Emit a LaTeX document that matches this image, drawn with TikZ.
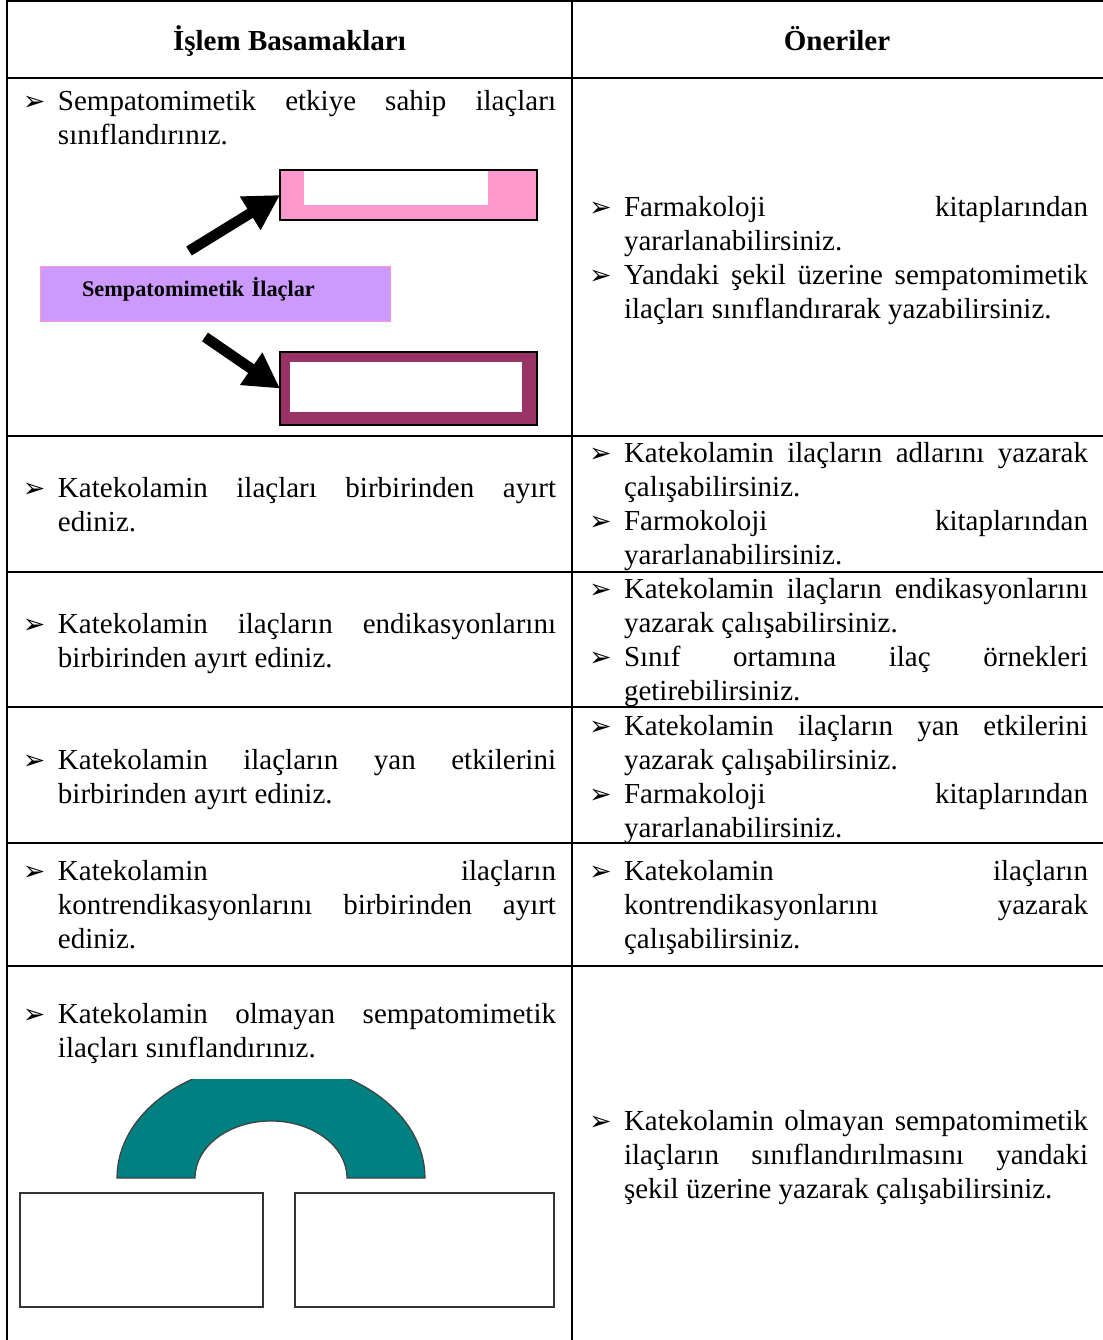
\documentclass[tikz,border=0pt]{standalone}
\usepackage{fontspec}
\setmainfont{Liberation Serif}
\newfontfamily\bulfont{DejaVu Sans}
\usetikzlibrary{arrows.meta}

\definecolor{pinkfill}{HTML}{FF99CC}
\definecolor{lilac}{HTML}{CC99FF}
\definecolor{plum}{HTML}{993366}
\definecolor{tealarc}{HTML}{008080}

% bullet with hanging indent for every item of a cell
\newcommand\itembul{\makebox[35pt][l]{\fontsize{27}{27}\bulfont ➢}}
\newcommand\cellitem[1]{\par\hangindent=35pt\hangafter=1\noindent\itembul #1\par}

\tikzset{
  rule/.style={line width=1.4pt, line cap=rect},
  cell/.style={anchor=base west, inner sep=0pt, outer sep=0pt, text width=#1,
    align=justify, font=\fontsize{29}{34}\selectfont,
    execute at begin node={\tolerance=10000\hyphenpenalty=10000\parskip=0pt}},
  headtext/.style={anchor=base, inner sep=0pt, font=\fontsize{29}{34}\selectfont\bfseries},
  plainbox/.style={draw=black!80, line width=1.4pt, inner sep=0pt, outer sep=0pt, anchor=north west},
  bigarrow/.style={line width=10.5pt, -{Triangle[width=37pt,length=35pt]}},
}

\begin{document}
\begin{tikzpicture}[x=1pt, y=-1pt]
\useasboundingbox (0,0) rectangle (1102,1340);
\fill[white] (0,0) rectangle (1102,1340);

% table rules
\foreach \yy in {1,78,436,572,707,843,966}
  \draw[rule] (7,\yy) -- (1103,\yy);
\draw[rule] (7,1) -- (7,1341);
\draw[rule] (572,1) -- (572,1341);

% header
\node[headtext] (h1) at (289.5,51) {İşlem Basamakları};
\node[headtext] (h2) at (837,51) {Öneriler};

% row 1
\node[cell=533pt] (c1l) at (23,76.5) {%
  \cellitem{Sempatomimetik etkiye sahip ilaçları\linebreak sınıflandırınız.}};
\node[cell=499pt] (c1r) at (589,182.5) {%
  \cellitem{Farmakoloji kitaplarından\linebreak yararlanabilirsiniz.}%
  \cellitem{Yandaki şekil üzerine sempatomimetik\linebreak ilaçları sınıflandırarak yazabilirsiniz.}};

% row 1 figure: classification scheme
\node[draw=pinkfill, line width=0.8pt, fill=lilac, inner sep=0pt, outer sep=0pt,
      anchor=north west, minimum width=350pt, minimum height=55pt, text width=350pt,
      text height=11pt, text depth=5pt,
      align=left, font=\fontsize{22.3}{24}\selectfont\bfseries]
      (symp) at (40,266) {\hspace*{42pt}Sempatomimetik İlaçlar};

\node[fill=pinkfill, inner sep=0pt, outer sep=0pt, anchor=north west,
      minimum width=257pt, minimum height=50pt] (upper) at (280,170) {};
\fill[white] (304,171) rectangle (488,205);
\draw[line width=1.2pt] (upper.north west) rectangle (upper.south east);

\node[fill=plum, inner sep=0pt, outer sep=0pt, anchor=north west,
      minimum width=257pt, minimum height=73pt] (lower) at (280,352) {};
\fill[white] (290,362) rectangle (522,412);
\draw[line width=1.2pt] (lower.north west) rectangle (lower.south east);

\coordinate (tailup) at (189,251);
\coordinate (taildown) at (205,337);
\draw[bigarrow] (tailup) -- (upper.west);
\draw[bigarrow] (taildown) -- (lower.west);

% row 2
\node[cell=533pt] (c2l) at (23,463.5) {%
  \cellitem{Katekolamin ilaçları birbirinden ayırt\linebreak ediniz.}};
\node[cell=499pt] (c2r) at (589,428.5) {%
  \cellitem{Katekolamin ilaçların adlarını yazarak\linebreak çalışabilirsiniz.}%
  \cellitem{Farmokoloji kitaplarından\linebreak yararlanabilirsiniz.}};

% row 3
\node[cell=533pt] (c3l) at (23,599.5) {%
  \cellitem{Katekolamin ilaçların endikasyonlarını\linebreak birbirinden ayırt ediniz.}};
\node[cell=499pt] (c3r) at (589,564.5) {%
  \cellitem{Katekolamin ilaçların endikasyonlarını\linebreak yazarak çalışabilirsiniz.}%
  \cellitem{Sınıf ortamına ilaç örnekleri\linebreak getirebilirsiniz.}};

% row 4
\node[cell=533pt] (c4l) at (23,735.5) {%
  \cellitem{Katekolamin ilaçların yan etkilerini\linebreak birbirinden ayırt ediniz.}};
\node[cell=499pt] (c4r) at (589,701.5) {%
  \cellitem{Katekolamin ilaçların yan etkilerini\linebreak yazarak çalışabilirsiniz.}%
  \cellitem{Farmakoloji kitaplarından\linebreak yararlanabilirsiniz.}};

% row 5
\node[cell=533pt] (c5l) at (23,846.5) {%
  \cellitem{Katekolamin ilaçların\linebreak kontrendikasyonlarını birbirinden ayırt\linebreak ediniz.}};
\node[cell=499pt] (c5r) at (589,846.5) {%
  \cellitem{Katekolamin ilaçların\linebreak kontrendikasyonlarını yazarak\linebreak çalışabilirsiniz.}};

% row 6
\node[cell=533pt] (c6l) at (23,989.5) {%
  \cellitem{Katekolamin olmayan sempatomimetik\linebreak ilaçları sınıflandırınız.}};
\node[cell=499pt] (c6r) at (589,1096.5) {%
  \cellitem{Katekolamin olmayan sempatomimetik\linebreak ilaçların sınıflandırılmasını yandaki\linebreak şekil üzerine yazarak çalışabilirsiniz.}};

% row 6 figure: arch over two empty boxes
\begin{scope}
  \clip (0,1079) rectangle (572,1186);
  \filldraw[fill=tealarc, draw=black!75, line width=1.2pt]
    (117,1178) arc[start angle=180, end angle=0, x radius=154pt, y radius=115pt]
    -- (347,1178) arc[start angle=0, end angle=180, x radius=76pt, y radius=57pt]
    -- cycle;
\end{scope}
\node[plainbox, minimum width=243pt, minimum height=114pt] (leftbox) at (20,1193) {};
\node[plainbox, minimum width=259pt, minimum height=114pt] (rightbox) at (295,1193) {};

\end{tikzpicture}
\end{document}
